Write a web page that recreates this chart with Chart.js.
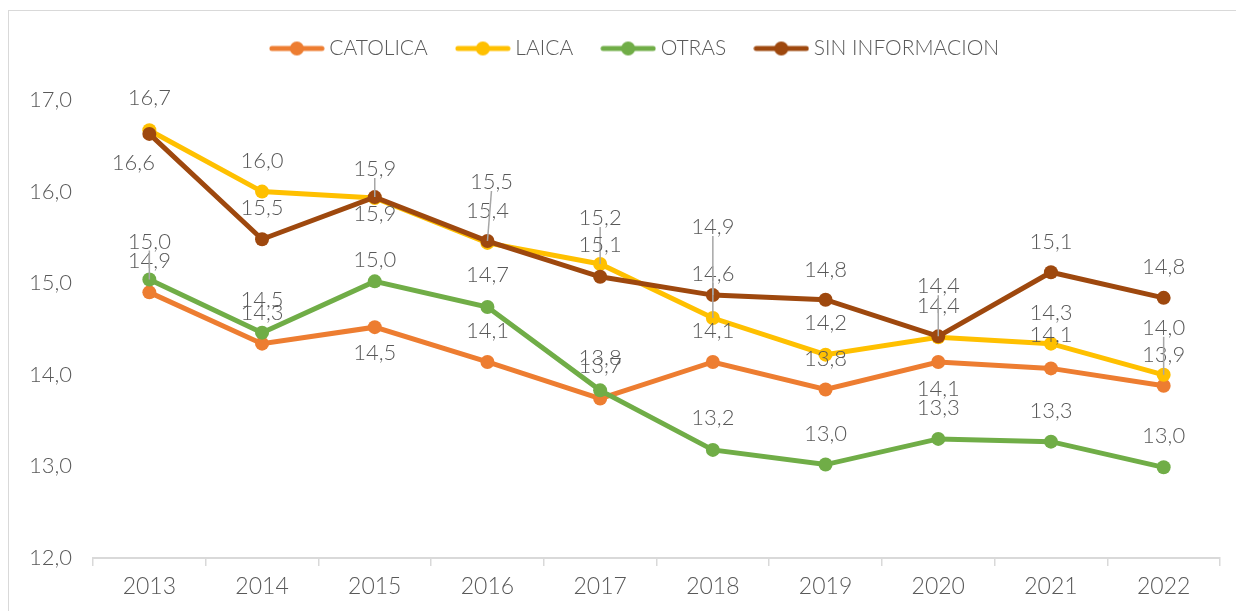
<!DOCTYPE html>
<html>
<head>
<meta charset="utf-8">
<script src="https://cdn.jsdelivr.net/npm/chart.js@4"></script>
<style>
  html, body { margin: 0; padding: 0; background: #fff; }
  #frame { position: absolute; left: 8px; top: 10px; width: 1300px; height: 700px;
           border-left: 1.5px solid #d9d9d9; border-top: 1.5px solid #d9d9d9; }
  #chart { position: absolute; left: 0; top: 0; }
</style>
</head>
<body>
<div id="frame"></div>
<canvas id="chart" width="1236" height="611"></canvas>
<script>
// Datos (promedio por tipo de establecimiento)
const years = ["2013", "2014", "2015", "2016", "2017", "2018", "2019", "2020", "2021", "2022"];
const catolica = [14.90, 14.34, 14.52, 14.14, 13.74, 14.14, 13.84, 14.14, 14.07, 13.88];
const laica    = [16.67, 16.00, 15.93, 15.44, 15.21, 14.62, 14.22, 14.41, 14.34, 14.00];
const otras    = [15.04, 14.46, 15.02, 14.74, 13.83, 13.18, 13.02, 13.30, 13.27, 12.99];
const sinInfo  = [16.63, 15.48, 15.94, 15.46, 15.07, 14.87, 14.82, 14.42, 15.12, 14.84];
const yTicks = [12, 13, 14, 15, 16, 17];

// desplazamiento vertical de cada etiqueta respecto a su punto (px)
const catolicaLabelDy = [-31, -31, 26, -31, -33, -31, -31, 27, -33, -31];
const laicaLabelDy    = [-32, -31, 16, -32, -46, -44, -32, -31, -31, -47];
const otrasLabelDy    = [-38, -33, -21, -32, -32, -32, -31, -31, -31, -31];
const sinInfoLabelDy  = [29, -31, -28, -59, -32, -68, -30, -50, -30, -31];
// etiquetas con línea guía (serie:índice) y corrimiento horizontal
const leaders = new Set(["2:0", "3:2", "3:3", "1:4", "3:5", "1:5", "3:7", "1:9"]);
const labelDx = { "3:0": -16, "3:3": 4 };

const TEXT = "#595959";
const LABEL_FONT = "300 22px Lato, 'Noto Sans', sans-serif";

const fmt = (v) => v.toFixed(1).replace(".", ",");

// marcador de leyenda: línea con círculo
function legendMarker(color) {
  const c = document.createElement("canvas");
  c.width = 56; c.height = 16;
  const g = c.getContext("2d");
  g.strokeStyle = color; g.lineWidth = 5; g.lineCap = "round";
  g.beginPath(); g.moveTo(3, 8); g.lineTo(53, 8); g.stroke();
  g.fillStyle = color;
  g.beginPath(); g.arc(28, 8, 7, 0, Math.PI * 2); g.fill();
  return c;
}

const series = [
  { label: "CATOLICA", data: catolica, color: "#ED7D31", dy: catolicaLabelDy, order: 4 },
  { label: "LAICA", data: laica, color: "#FFC000", dy: laicaLabelDy, order: 3 },
  { label: "OTRAS", data: otras, color: "#70AD47", dy: otrasLabelDy, order: 2 },
  { label: "SIN INFORMACION", data: sinInfo, color: "#9E480E", dy: sinInfoLabelDy, order: 1 },
];

const valueLabels = {
  id: "valueLabels",
  afterDatasetsDraw(chart) {
    const ctx = chart.ctx;
    ctx.save();
    ctx.font = LABEL_FONT;
    ctx.textAlign = "center";
    ctx.textBaseline = "middle";
    chart.data.datasets.forEach((ds, di) => {
      const meta = chart.getDatasetMeta(di);
      meta.data.forEach((pt, i) => {
        const key = di + ":" + i;
        const x = pt.x + (labelDx[key] || 0);
        const y = pt.y + ds.labelDy[i];
        if (leaders.has(key)) {
          ctx.strokeStyle = "#a6a6a6";
          ctx.lineWidth = 1.5;
          ctx.beginPath();
          ctx.moveTo(x, y + (ds.labelDy[i] < 0 ? 9 : -9));
          ctx.lineTo(pt.x, pt.y);
          ctx.stroke();
        }
        ctx.fillStyle = TEXT;
        ctx.fillText(fmt(ds.data[i]), x, y);
      });
    });
    ctx.restore();
  },
};

const legendSize = {
  id: "legendSize",
  beforeLayout(chart) {
    const lg = chart.legend;
    if (lg && !lg._sized) {
      const fit = lg.fit;
      lg.fit = function () { fit.call(this); this.height = 100; };
      lg._sized = true;
    }
  },
  afterLayout(chart) {
    const lg = chart.legend;
    lg.left += 27; lg.right += 27;
    lg.top += 5; lg.bottom += 5;
  },
};

new Chart(document.getElementById("chart"), {
  type: "line",
  data: {
    labels: years,
    datasets: series.map((s) => ({
      label: s.label,
      data: s.data,
      labelDy: s.dy,
      order: s.order,
      marker: legendMarker(s.color),
      borderColor: s.color,
      backgroundColor: s.color,
      pointBackgroundColor: s.color,
      pointBorderWidth: 0,
      pointRadius: 7,
      pointHoverRadius: 7,
      pointStyle: "circle",
      borderWidth: 5,
      tension: 0,
      fill: false,
    })),
  },
  options: {
    responsive: false,
    animation: false,
    devicePixelRatio: 1,
    layout: { padding: { left: 0, right: 16, top: 0, bottom: 0 } },
    plugins: {
      tooltip: { enabled: false },
      legend: {
        position: "top",
        labels: {
          usePointStyle: true,
          pointStyleWidth: 44,
          padding: 33,
          color: TEXT,
          font: { family: "Lato, sans-serif", size: 21, weight: 300 },
          sort: (a, b) => a.datasetIndex - b.datasetIndex,
          generateLabels(chart) {
            return chart.data.datasets.map((ds, i) => ({
              text: ds.label,
              datasetIndex: i,
              fontColor: TEXT,
              pointStyle: ds.marker,
              lineWidth: 0,
              strokeStyle: "rgba(0,0,0,0)",
              fillStyle: ds.borderColor,
              hidden: false,
            }));
          },
        },
      },
    },
    scales: {
      x: {
        offset: true,
        grid: { display: true, drawOnChartArea: false, drawTicks: true, tickLength: 8, offset: true, color: "#d9d9d9", lineWidth: 1.5 },
        border: { display: true, color: "#d9d9d9", width: 2 },
        ticks: { color: TEXT, padding: 7, font: { family: "Lato, sans-serif", size: 23, weight: 300 } },
        afterFit(scale) { scale.height = 53; },
      },
      y: {
        min: 12,
        max: 17,
        afterBuildTicks(scale) { scale.ticks = yTicks.map((v) => ({ value: v })); },
        grid: { display: false, drawTicks: false },
        border: { display: false },
        ticks: { color: TEXT, padding: 21, font: { family: "Lato, sans-serif", size: 22, weight: 300 }, callback: (v) => fmt(v) },
        afterFit(scale) { scale.width = 93; },
      },
    },
  },
  plugins: [valueLabels, legendSize],
});
</script>
</body>
</html>
